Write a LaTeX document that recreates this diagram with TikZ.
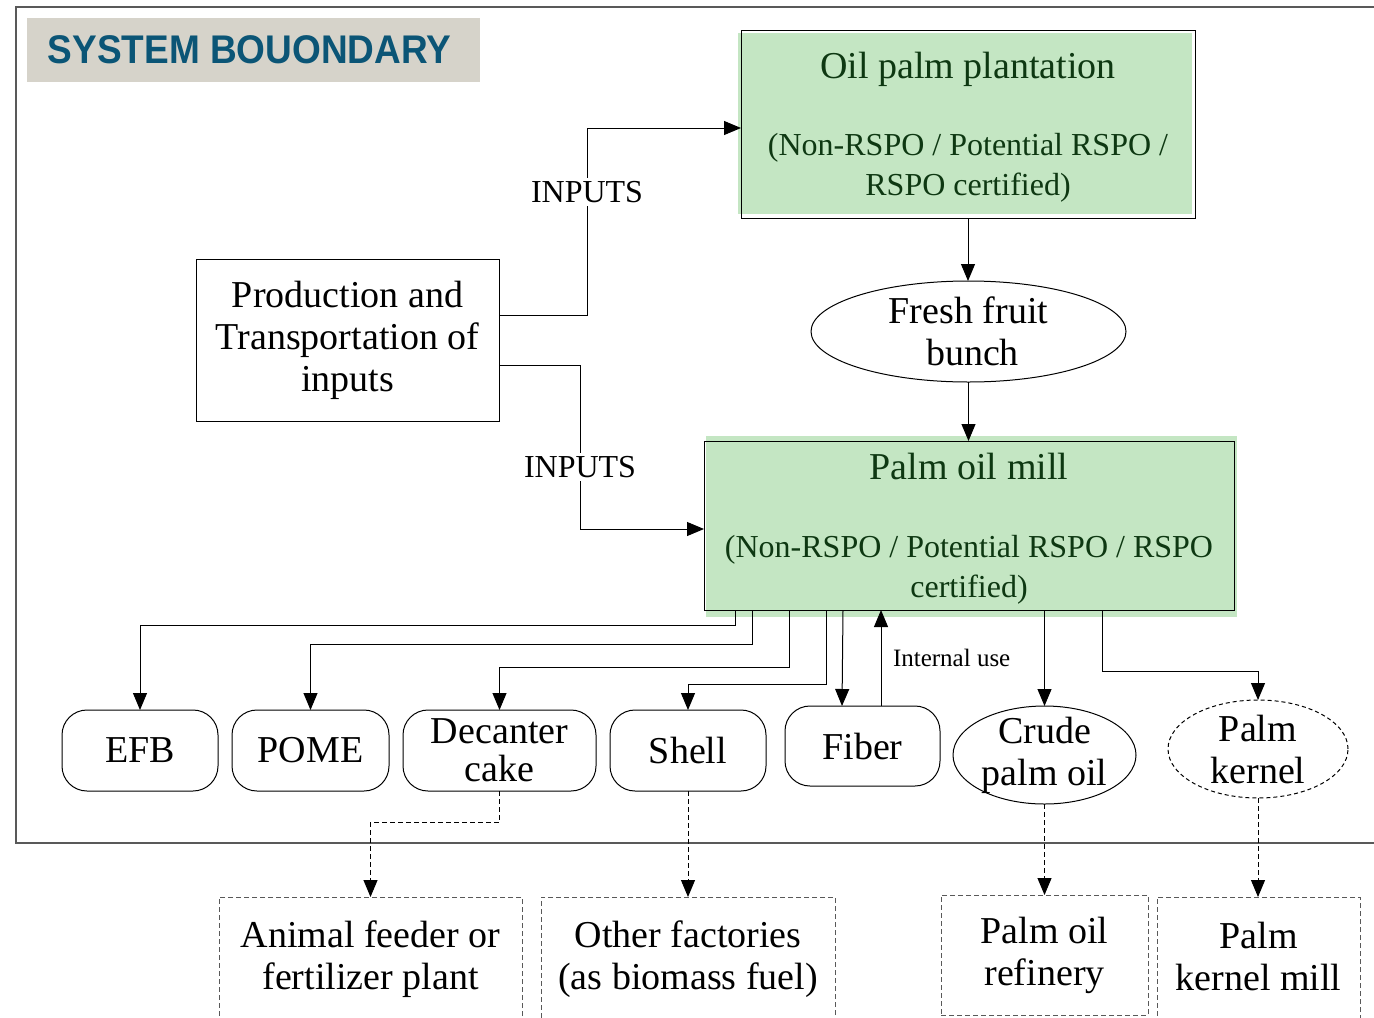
\documentclass[tikz,border=0pt]{standalone}
\usepackage{graphicx}
\usepackage{fontspec}
\setmainfont{Liberation Serif}
\newfontfamily\headfont{Liberation Sans}
\usetikzlibrary{shapes.geometric,arrows.meta}

\definecolor{millgreen}{HTML}{C4E6C3}
\definecolor{darkgreen}{HTML}{0E3812}
\definecolor{headblue}{HTML}{0B5576}
\definecolor{headgray}{HTML}{D6D3CA}
\definecolor{edgegray}{HTML}{595959}

\begin{document}
\begin{tikzpicture}[x=0.5pt, y=-0.5pt,
  every node/.style={inner sep=0pt, outer sep=0pt, align=center,
    font=\fontsize{19}{21}\selectfont},
  arr/.style={-{Triangle[length=8.5pt,width=7pt]}, line width=0.5pt},
  darr/.style={arr, dash pattern=on 2.5pt off 1.5pt},
  plainbox/.style={draw, line width=0.5pt},
  greenbox/.style={draw, line width=0.5pt, text=darkgreen, text depth=0.5pt,
    font=\fontsize{16}{20}\selectfont},
  roundbox/.style={draw, line width=0.5pt, rounded corners=12.5pt},
  oval/.style={draw, ellipse, line width=0.5pt, inner ysep=-10pt},
  dashbox/.style={draw=edgegray, line width=0.5pt, dash pattern=on 2.5pt off 1.5pt},
  lbl/.style={fill=white, inner sep=1.5pt, font=\fontsize{16}{18}\selectfont}]

  \useasboundingbox (0,0) rectangle (1374,1017);
  \clip (0,0) rectangle (1374,1017);

  %% system boundary (open on the right)
  \draw[edgegray, line width=0.6pt] (1374,7) -- (16,7) -- (16,843) -- (1374,843);
  \node[fill=headgray, minimum width=226.5pt, minimum height=32pt, text=headblue,
    font=\headfont\bfseries\fontsize{20}{24}\selectfont]
    (head) at (253.5,50) {\scalebox{0.925}[1]{SYSTEM BOUONDARY}\hspace{4pt}};

  %% green fills, a bit off the frames
  \fill[millgreen] (738,33) rectangle (1192,214);
  \fill[millgreen] (706,436) rectangle (1237,617);

  \node[greenbox, minimum width=227pt, minimum height=94pt] (plant) at (968,124)
    {{\fontsize{19}{20}\selectfont Oil palm plantation}\\[18.5pt]
     (Non-RSPO / Potential RSPO /\\ RSPO certified)};
  \node[greenbox, minimum width=265pt, minimum height=84.5pt] (mill) at (969,525.5)
    {{\fontsize{19}{20}\selectfont Palm oil mill}\\[19pt]
     (Non-RSPO / Potential RSPO / RSPO\\ certified)};

  \node[plainbox, minimum width=151.5pt, minimum height=81pt] (prod) at (347.5,340)
    {Production and\\ Transportation of\\ inputs};
  \node[oval, minimum width=157.5pt, minimum height=50.5pt] (ffb) at (968.5,331.5)
    {Fresh fruit\\ \hspace{4pt}bunch};

  %% products of the mill
  \node[roundbox, minimum width=78pt, minimum height=40.5pt] (efb) at (140,750.5) {EFB};
  \node[roundbox, minimum width=78.5pt, minimum height=40.5pt] (pome) at (310.5,750.5) {POME};
  \node[roundbox, minimum width=96.5pt, minimum height=40.5pt] (dec) at (499.5,750.5)
    {Decanter\\[-2pt] cake};
  \node[roundbox, minimum width=78pt, minimum height=40.5pt] (shell) at (688,750.5) {Shell};
  \node[roundbox, minimum width=77.5pt, minimum height=40pt] (fiber) at (862.5,746) {Fiber};
  \node[oval, minimum width=91.5pt, minimum height=49pt] (crude) at (1044.5,755)
    {Crude\\ palm oil};
  \node[oval, minimum width=90pt, minimum height=49pt, dash pattern=on 2pt off 1.5pt]
    (kernel) at (1258,749) {Palm\\ kernel};

  %% outside the boundary
  \node[dashbox, minimum width=151.5pt, minimum height=64pt, text depth=6pt]
    (feeder) at (370.5,961) {Animal feeder or\\ fertilizer plant};
  \node[dashbox, minimum width=147pt, minimum height=64pt, text depth=6pt]
    (factory) at (688,961) {Other factories\\ (as biomass fuel)};
  \node[dashbox, minimum width=103.5pt, minimum height=60pt] (refinery) at (1044.5,955)
    {Palm oil\\ refinery};
  \node[dashbox, minimum width=101.5pt, minimum height=64pt, text depth=4.5pt]
    (kmill) at (1258.5,961) {Palm\\ kernel mill};

  %% inputs
  \draw[arr] ([yshift=12.5pt]prod.east) -| (587,192) node[lbl] (inA) {INPUTS}
    |- ([yshift=-2pt]plant.west);
  \draw[arr] ([yshift=-12.5pt]prod.east) -| (580,467) node[lbl] (inB) {INPUTS}
    |- ([yshift=-1.75pt]mill.west);

  \draw[arr] (plant.south) -- (plant.south |- ffb.north);
  \draw[arr] (ffb.south) -- (ffb.south |- mill.north);

  %% mill -> products
  \draw[arr] ([xshift=15.5pt]mill.south west) -- ++(0,15) -| (efb.north);
  \draw[arr] ([xshift=24pt]mill.south west) -- ++(0,34) -| (pome.north);
  \draw[arr] ([xshift=42.5pt]mill.south west) -- ++(0,57) -| (dec.north);
  \draw[arr] ([xshift=61pt]mill.south west) -- ++(0,74) -| (shell.north);
  \draw[arr] ([xshift=69.5pt]mill.south west) -- ([xshift=-10.25pt]fiber.north);
  \draw[arr] ([xshift=9.25pt]fiber.north) -- ([xshift=88.5pt]mill.south west)
    node[midway, anchor=west, xshift=6pt, font=\fontsize{12.5}{14}\selectfont]
    (intuse) {Internal use};
  \draw[arr] (crude.north |- mill.south) -- (crude.north);
  \draw[arr] ([xshift=199pt]mill.south west) -- ++(0,61) -| (kernel.north);

  %% leaving the boundary
  \draw[darr] (dec.south) -- ++(0,31) -| (feeder.north);
  \draw[darr] (shell.south) -- (factory.north);
  \draw[darr] (crude.south) -- (refinery.north);
  \draw[darr] (kernel.south) -- (kernel.south |- kmill.north);

\end{tikzpicture}
\end{document}
